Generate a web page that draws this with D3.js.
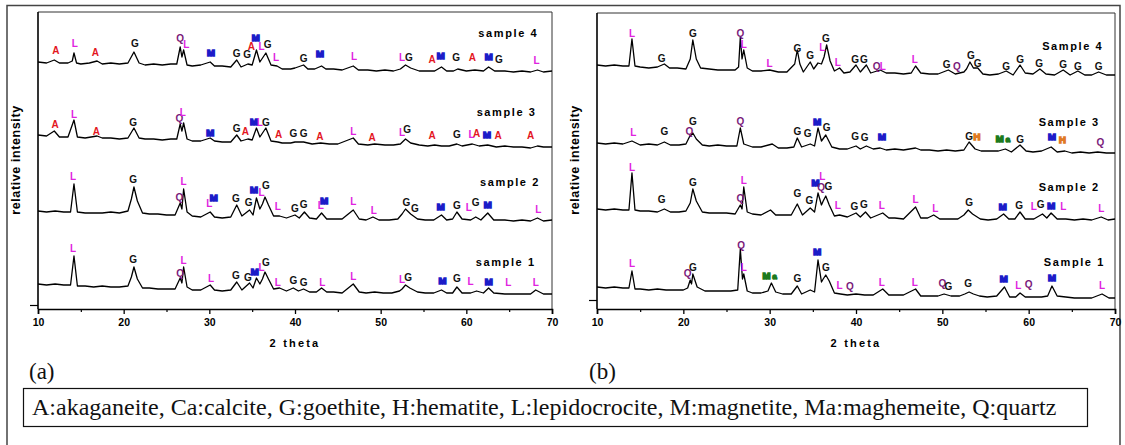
<!DOCTYPE html>
<html><head><meta charset="utf-8">
<script src="https://cdn.jsdelivr.net/npm/d3@7"></script>
<style>
html,body{margin:0;padding:0;background:#fff;}
svg{display:block;}
</style>
</head><body>
<svg id="chart" width="1125" height="445"></svg>
<script>
// ---------- data ----------
const xTicks = [10, 20, 30, 40, 50, 60, 70];
const xMinorTicks = [15, 25, 35, 45, 55, 65];
const sampleNamesA = ["sample 1", "sample 2", "sample 3", "sample 4"];
const sampleNamesB = ["Sample 1", "Sample 2", "Sample 3", "Sample 4"];
const sampleNamePosA = [[64.6, 47], [65.1, 127], [64.7, 197], [64.9, 276]];
const sampleNamePosB = [[65.3, 47], [64.7, 122], [64.7, 187], [65.1, 263]];
const phaseCodes = ["A", "Ca", "G", "H", "L", "M", "Ma", "Q"];
const phaseNames = ["akaganeite", "calcite", "goethite", "hematite", "lepidocrocite", "magnetite", "maghemeite", "quartz"];

// traces: [2 theta, relative intensity (stacked)]
const a1 = [[10,25],[11,24],[12,25],[13,24],[13.8,24],[14.2,53],[14.6,23],[15.5,23],[16.5,22],[17.5,23],[18.5,22],[19.5,22],[20.5,23],[20.9,32],[21.2,42],[21.6,30],[22.2,21],[23,21],[24,20],[25,20],[26,20],[26.6,31],[26.8,26],[27.0,42],[27.4,22],[28,19],[29,19],[30.1,24],[30.6,19],[31.5,18],[32.5,19],[33.2,27],[33.8,19],[34.7,26],[35.1,21],[35.5,31],[35.9,25],[36.2,30],[36.5,37],[36.9,30],[37.5,20],[38.2,21],[39,18],[39.8,21],[40.4,18],[41.0,20],[41.7,17],[42.5,17],[43.1,21],[43.7,17],[44.5,17],[45.5,16],[46.8,25],[47.5,17],[48.3,16],[49.3,17],[50.3,16],[51.3,16],[52.2,18],[52.5,20],[52.9,24],[53.4,21],[54.3,17],[55.2,16],[56.2,16],[57.1,19],[57.7,16],[58.4,16],[58.9,22],[59.5,16],[60.5,16],[61.2,18],[62,16],[62.6,21],[63.2,16],[64.5,15],[65.5,15],[66.5,15],[67.5,15],[68.1,19],[69,15],[70,15]];
const a2 = [[10,98],[11,97],[12,98],[13,97],[13.8,97],[14.2,125],[14.6,97],[15.5,96],[16.5,96],[17.5,96],[18.5,97],[19.5,96],[20.5,98],[20.9,110],[21.2,122],[21.6,108],[22.2,96],[23,95],[24,95],[25,94],[26,94],[26.6,106],[26.8,100],[27.0,120],[27.4,97],[28,93],[29,92],[30.1,97],[30.6,92],[31.5,91],[32.5,92],[33.2,104],[33.8,93],[34.7,99],[35.1,94],[35.5,111],[35.9,100],[36.2,105],[36.5,112],[36.9,104],[37.5,93],[38.2,93],[39,91],[40,94],[40.5,91],[41.1,97],[41.7,91],[42.5,90],[43.1,96],[43.7,90],[44.5,90],[45.5,90],[46.8,99],[47.5,90],[48.3,89],[49.1,92],[49.8,89],[51,89],[52,90],[52.5,95],[52.9,100],[53.5,95],[54.3,90],[55.2,89],[56.2,89],[57.1,94],[57.7,89],[58.4,90],[58.9,97],[59.5,90],[60.5,89],[61.1,92],[61.7,89],[62.5,96],[63.2,89],[64.5,89],[65.5,88],[66.5,89],[67.5,88],[68.3,91],[69,88],[70,89]];
const a3 = [[10,174],[11,173],[11.9,178],[12.5,172],[13.5,172],[14.2,189],[14.6,172],[15.5,171],[16.9,173],[17.5,171],[18.5,171],[19.5,170],[20.5,171],[21.2,181],[21.8,171],[22.5,170],[23.5,170],[24.5,169],[25.5,170],[26.2,170],[26.6,185],[26.8,178],[27.0,186],[27.4,170],[28,168],[29,168],[30.1,171],[30.6,168],[31.5,167],[32.5,167],[33.2,174],[33.7,168],[34.5,170],[35,169],[35.5,181],[35.9,172],[36.6,181],[37.2,168],[38.0,167],[38.5,166],[39.5,166],[40,167],[41,167],[42,165],[43,166],[44,165],[45,165],[46.8,171],[47.4,165],[48.5,164],[49.3,165],[50.5,164],[51.5,164],[52.3,165],[52.9,170],[53.5,166],[54.5,164],[55.5,163],[56.3,164],[57.1,163],[58,163],[58.9,165],[59.5,163],[60.7,165],[61.5,163],[62.5,164],[63.5,162],[64.5,163],[65.5,162],[66.5,162],[67.5,161],[68.3,163],[69,162],[70,162]];
const a4 = [[10,247],[11,246],[11.9,249],[12.5,246],[13.5,246],[14.0,248],[14.2,256],[14.5,246],[15,245],[16,246],[16.9,248],[17.5,245],[18.5,246],[19.5,245],[20.5,246],[21.2,257],[21.8,246],[22.5,244],[23.5,245],[24.5,244],[25.5,245],[26.2,245],[26.6,262],[26.8,252],[27.0,259],[27.4,244],[28,243],[29,244],[30.1,247],[30.6,243],[31.5,243],[32.5,242],[33.2,249],[33.7,242],[34.5,245],[35,244],[35.5,259],[35.9,247],[36.6,256],[37.2,244],[37.9,243],[38.5,240],[39.5,240],[40,241],[41,244],[41.5,240],[42.3,240],[43.1,243],[43.6,240],[44.5,240],[45.5,239],[46.8,243],[47.4,239],[48.5,239],[49.5,238],[50.5,239],[51.5,238],[52.3,240],[52.9,244],[53.5,241],[54.5,238],[55.5,238],[56.3,238],[57.1,242],[57.7,238],[58.5,238],[59,240],[60,238],[61,239],[62,238],[62.6,242],[63.3,238],[64.5,238],[65.5,237],[66.5,238],[67.5,237],[68.3,239],[69,237],[70,238]];

const b1 = [[10,22],[11,21],[12,22],[13,21],[13.7,21],[14.05,38],[14.4,20],[15,20],[16,19],[17,20],[18,19],[19,19],[20,19],[20.5,21],[20.8,29],[20.95,25],[21.1,35],[21.6,22],[22.5,18],[23.5,18],[24.5,18],[25.5,18],[26.3,19],[26.6,60],[26.85,30],[27.0,35],[27.4,18],[28,16],[29,16],[29.8,18],[30.2,26],[30.7,17],[31.5,15],[32.5,15],[33.2,23],[33.7,15],[34.7,19],[35.2,17],[35.6,49],[36.0,27],[36.2,30],[36.5,34],[36.9,28],[37.5,16],[38.2,15],[39,14],[40,15],[41,14],[42,14],[43.1,20],[43.8,14],[44.5,14],[45.5,14],[46.9,20],[47.5,13],[48.5,13],[49.5,13],[50.2,15],[51,13],[52,13],[52.6,15],[53.1,17],[53.6,15],[54.3,13],[55.2,12],[56.3,13],[57.2,22],[57.8,12],[58.5,12],[59.0,16],[59.6,12],[60.5,12],[61.5,12],[62.2,13],[62.7,23],[63.3,13],[64.3,12],[65.3,11],[66.3,11],[67.3,11],[68.5,15],[69.3,11],[70,11]];
const b2 = [[10,100],[11,99],[12,100],[13,99],[13.7,99],[14.05,136],[14.4,99],[15,98],[16,98],[17,97],[17.8,100],[18.5,97],[19.5,97],[20.3,98],[20.8,106],[21.1,120],[21.5,108],[22.2,97],[23,96],[24,96],[25,96],[26,95],[26.6,104],[26.8,100],[27.0,122],[27.4,97],[28,95],[29,94],[30.1,99],[30.7,94],[31.5,94],[32.5,94],[33.2,105],[33.8,94],[34.7,101],[35.2,97],[35.6,116],[36.0,104],[36.2,108],[36.5,113],[36.9,104],[37.5,93],[38.1,94],[39,92],[40,96],[40.5,92],[41.1,97],[41.7,91],[43.1,96],[43.8,91],[44.5,91],[45.5,90],[46.9,102],[47.5,91],[48.3,91],[49.0,94],[49.7,90],[50.7,90],[51.8,90],[52.5,94],[53.0,99],[53.5,95],[54.4,90],[55.3,89],[56.3,90],[57.1,95],[57.7,90],[58.4,90],[59.0,97],[59.6,90],[60.6,90],[61.6,95],[62.1,91],[62.6,96],[63.3,90],[64.3,90],[65.3,89],[66.3,90],[67.3,89],[68.4,92],[69.2,89],[70,90]];
const b3 = [[10,166],[11,165],[12,166],[13,165],[14.05,168],[15,164],[16,165],[17,164],[17.8,167],[18.5,164],[19.5,164],[20.3,165],[20.7,172],[21.1,176],[21.5,170],[22.2,164],[23,163],[24,164],[25,163],[26.2,163],[26.6,181],[27.0,165],[28,162],[29,162],[30.3,165],[31,161],[32,161],[32.8,162],[33.2,171],[33.7,162],[34.7,165],[35.2,163],[35.6,181],[36.0,168],[36.5,174],[37.2,162],[38.1,160],[39,160],[40,163],[40.5,160],[41.2,163],[42,160],[42.8,161],[43.5,159],[44.5,160],[45.5,159],[46.9,161],[47.5,159],[48.5,159],[49.5,158],[50.5,159],[51.5,158],[52.5,159],[53.1,167],[53.8,160],[54.5,158],[55.5,158],[56.5,158],[57.3,160],[58,157],[59.0,164],[59.7,158],[60.5,157],[61.5,158],[62.6,162],[63.3,157],[64.2,158],[65,156],[66,157],[67,156],[68,157],[69,156],[70,156]];
const b4 = [[10,244],[11,243],[12,244],[13,243],[13.7,243],[14.05,270],[14.4,243],[15,242],[16,241],[17,242],[17.8,245],[18.4,241],[19.3,241],[20.3,240],[20.8,250],[21.1,269],[21.5,250],[22,241],[23,240],[24,239],[25,239],[26,239],[26.4,242],[26.6,272],[26.8,250],[27.0,259],[27.4,241],[28,238],[29,238],[30,239],[31,237],[32,237],[32.9,245],[33.2,259],[33.5,245],[33.9,237],[34.7,247],[35.1,240],[35.6,246],[36.0,245],[36.3,252],[36.6,264],[37.0,248],[37.5,238],[38.1,241],[38.6,236],[39.3,237],[40,244],[40.5,237],[41.2,244],[41.7,236],[42.8,239],[43.5,236],[44.5,236],[45.5,235],[46.4,236],[46.9,243],[47.5,236],[48.5,235],[49.5,235],[50.7,239],[51.5,235],[52.5,237],[52.8,240],[53.2,247],[53.6,241],[54.1,241],[54.7,235],[55.5,234],[56.5,235],[57.4,238],[58.2,234],[59.0,244],[59.6,236],[60.5,235],[61.3,240],[62,235],[63,234],[64,239],[64.8,234],[65.7,238],[66.5,234],[67.3,234],[68.1,237],[69,234],[70,234]];

// peak labels: [2 theta, intensity, phase code]
const labelsA = [
 [12.1,259,"A"],[14.3,266,"L"],[16.7,257,"A"],[21.3,266,"G"],[26.6,271,"Q"],[27.3,265,"L"],[30.2,256,"M"],[33.2,256,"G"],[34.4,255,"G"],[34.9,263,"A"],[35.4,271,"M"],[36.1,263,"L"],[36.8,265,"G"],[37.8,252,"L"],[41.0,251,"G"],[42.9,255,"M"],[46.9,253,"L"],[52.5,252,"L"],[53.3,252,"G"],[56.0,250,"A"],[57.0,253,"M"],[58.8,252,"G"],[60.7,252,"A"],[62.6,252,"M"],[63.8,250,"G"],[68.2,249,"L"],
 [12.0,185,"A"],[14.2,195,"L"],[16.8,178,"A"],[21.1,187,"G"],[26.5,191,"Q"],[26.9,197,"L"],[30.1,176,"M"],[33.2,181,"G"],[34.2,178,"A"],[35.2,187,"M"],[35.9,187,"L"],[36.6,187,"G"],[38.1,175,"A"],[39.8,176,"G"],[41.0,176,"G"],[42.9,173,"A"],[46.8,178,"L"],[49.0,172,"A"],[52.5,177,"L"],[53.1,180,"G"],[56.0,174,"A"],[58.9,175,"G"],[60.6,175,"L"],[61.2,176,"A"],[62.4,174,"M"],[63.7,174,"A"],[67.5,174,"A"],
 [14.1,133,"L"],[21.1,130,"G"],[26.5,112,"Q"],[27.0,128,"L"],[30.0,106,"L"],[30.5,111,"M"],[33.1,111,"G"],[34.6,107,"G"],[35.2,119,"M"],[36.1,117,"L"],[36.6,124,"G"],[38.0,103,"L"],[40.0,101,"G"],[41.0,105,"G"],[43.0,104,"L"],[43.4,108,"M"],[46.8,108,"L"],[49.2,99,"L"],[53.0,107,"G"],[54.0,101,"G"],[57.0,102,"M"],[58.9,104,"G"],[60.3,102,"L"],[61.1,107,"G"],[62.5,104,"M"],[68.4,100,"L"],
 [14.1,61,"L"],[21.1,50,"G"],[26.6,36,"Q"],[27.0,49,"L"],[30.2,31,"L"],[33.1,34,"G"],[34.5,32,"G"],[35.3,37,"M"],[36.1,42,"L"],[36.6,47,"G"],[38.0,27,"L"],[39.8,29,"G"],[41.0,27,"G"],[43.2,27,"L"],[46.8,33,"L"],[52.5,30,"L"],[53.2,32,"G"],[57.2,28,"M"],[58.9,31,"G"],[60.5,28,"L"],[62.6,27,"M"],[64.9,27,"L"],[68.1,27,"L"]
];
const labelsB = [
 [14.05,276,"L"],[17.5,251,"G"],[21.1,276,"G"],[26.6,276,"Q"],[27.0,265,"L"],[30.0,246,"L"],[33.2,261,"G"],[34.7,254,"G"],[36.1,262,"L"],[36.5,271,"G"],[37.9,247,"L"],[39.9,250,"G"],[40.9,250,"G"],[42.4,243,"Q"],[43.1,243,"L"],[46.8,250,"L"],[50.5,245,"G"],[51.7,243,"Q"],[53.3,254,"G"],[54.1,246,"G"],[57.4,243,"G"],[59.0,250,"G"],[61.2,246,"G"],[64.0,245,"G"],[65.7,243,"G"],[68.1,243,"G"],
 [14.2,177,"L"],[17.8,178,"G"],[20.7,178,"Q"],[21.1,188,"G"],[26.6,188,"Q"],[33.2,178,"G"],[34.4,176,"G"],[35.5,187,"M"],[36.6,182,"G"],[39.9,173,"G"],[41.0,172,"G"],[43.0,172,"M"],[53.1,173,"G"],[54.0,172,"H"],[57.0,170,"Ma"],[59.0,170,"G"],[62.7,172,"M"],[63.9,169,"H"],[68.3,167,"Q"],
 [14.05,142,"L"],[17.5,110,"G"],[21.1,127,"G"],[26.6,111,"Q"],[27.0,129,"L"],[33.2,116,"G"],[34.6,109,"G"],[35.3,126,"M"],[36.1,133,"L"],[35.95,122,"Q"],[36.8,123,"G"],[37.9,104,"L"],[39.8,103,"G"],[40.9,105,"G"],[43.0,104,"L"],[46.9,110,"L"],[49.2,101,"L"],[53.1,107,"G"],[57.0,102,"M"],[58.9,104,"G"],[60.6,103,"L"],[61.4,105,"G"],[62.6,103,"M"],[64.0,103,"L"],[68.4,101,"L"],
 [14.05,46,"L"],[20.5,36,"Q"],[21.1,42,"G"],[26.7,64,"Q"],[27.0,42,"L"],[30.0,33,"Ma"],[33.2,31,"G"],[35.5,57,"M"],[36.5,42,"G"],[38.1,24,"L"],[39.3,23,"Q"],[43.0,27,"L"],[46.8,27,"L"],[50.0,26,"Q"],[50.7,23,"G"],[53.0,26,"G"],[57.1,30,"M"],[58.8,24,"L"],[60.0,25,"Q"],[62.7,31,"M"],[68.5,24,"L"]
];
const yTickA = [4];
const yTickB = [9];

// ---------- drawing ----------
const svg = d3.select("#chart");
const phaseColor = {A:"#e3161e", L:"#e022e0", G:"#111111", Q:"#7a1a7a", M:"#1c1cc8", H:"#e07a24", Ma:"#1d7a1d"};
const sans = "'Liberation Sans', Arial, sans-serif";
const serif = "'Liberation Serif', 'Times New Roman', serif";

// outer frame
svg.append("path").attr("d","M7,450 L7,5.5 L1120,5.5 L1120,450")
  .attr("fill","none").attr("stroke","#444").attr("stroke-width",1.5);

function panel(cfg){
  const x = d3.scaleLinear().domain([10,70]).range([cfg.x0, cfg.x1]);
  const y = d3.scaleLinear().domain([0,300]).range([309, 9]);
  const g = svg.append("g");
  g.append("path").attr("d",`M${cfg.x0},${cfg.top} L${cfg.x1},${cfg.top} L${cfg.x1},309`)
    .attr("fill","none").attr("stroke","#333").attr("stroke-width",1);
  const line = d3.line().x(d=>x(d[0])).y(d=>y(d[1]));
  cfg.traces.forEach(t=>{
    g.append("path").datum(t).attr("d",line).attr("fill","none")
      .attr("stroke","#000").attr("stroke-width",1.3).attr("stroke-linejoin","round");
  });
  const ax = g.append("g").attr("transform","translate(0,309)")
    .call(d3.axisBottom(x).tickValues(xTicks).tickSize(5).tickPadding(4).tickFormat(d3.format("d")));
  ax.select(".domain").attr("stroke","#000").attr("stroke-width",1.6);
  ax.selectAll(".tick line").attr("stroke","#000").attr("stroke-width",1.3);
  ax.selectAll(".tick text").attr("font-family",sans).attr("font-weight","bold").attr("font-size",10.5).attr("fill","#000").attr("dy","0.8em");
  const axm = g.append("g").attr("transform","translate(0,309)")
    .call(d3.axisBottom(x).tickValues(xMinorTicks).tickSize(3).tickFormat(""));
  axm.select(".domain").remove();
  axm.selectAll(".tick line").attr("stroke","#000").attr("stroke-width",1.2);
  const ay = g.append("g").attr("transform",`translate(${cfg.x0},0)`)
    .call(d3.axisLeft(y).tickValues(cfg.yTick).tickSize(8).tickFormat(""));
  ay.select(".domain").attr("d",`M0,${cfg.top}V309`).attr("stroke","#000").attr("stroke-width",1.6);
  ay.selectAll(".tick line").attr("stroke","#000").attr("stroke-width",1.2);
  g.append("text").attr("x",(cfg.x0+cfg.x1)/2).attr("y",347)
    .attr("text-anchor","middle").attr("font-family",sans).attr("font-weight","bold")
    .attr("font-size",11).attr("letter-spacing","2.2px").text("2 theta");
  g.append("text").attr("transform",`translate(${cfg.ytx},160) rotate(-90)`)
    .attr("text-anchor","middle").attr("font-family",sans).attr("font-weight","bold")
    .attr("font-size",12.5).attr("letter-spacing","0.6px").attr("dy","0.35em").text("relative intensity");
  cfg.names.forEach((n,i)=>{
    g.append("text").attr("x",x(cfg.namePos[i][0])).attr("y",y(cfg.namePos[i][1]))
      .attr("text-anchor","middle").attr("dy","0.35em").attr("font-family",sans)
      .attr("font-weight","bold").attr("font-size",11).attr("letter-spacing","1.6px").text(n);
  });
  cfg.labels.forEach(d=>{
    const code = d[2], c = phaseColor[code];
    const heavy = (code==="M"||code==="H"||code==="Ma");
    const t = g.append("text").attr("x",x(d[0])).attr("y",y(d[1]))
      .attr("text-anchor","middle").attr("dy","0.36em").attr("font-family",sans)
      .attr("font-weight","bold").attr("font-size",heavy?9.5:10).attr("fill",c);
    if(heavy){ t.attr("stroke",c).attr("stroke-width",1.5).attr("stroke-linejoin","miter"); }
    if(code==="Ma"){
      t.append("tspan").text("M");
      t.append("tspan").attr("font-size",7.5).attr("dx","2").text("a");
    } else t.text(code);
  });
  g.append("text").attr("x",cfg.letterX).attr("y",379).attr("font-family",serif)
    .attr("font-size",23).attr("fill","#111").text(cfg.letter);
}

panel({x0:38, x1:552, top:12, traces:[a1,a2,a3,a4], labels:labelsA, names:sampleNamesA, namePos:sampleNamePosA, yTick:yTickA, ytx:16, letter:"(a)", letterX:29});
panel({x0:597, x1:1115, top:13, traces:[b1,b2,b3,b4], labels:labelsB, names:sampleNamesB, namePos:sampleNamePosB, yTick:yTickB, ytx:575, letter:"(b)", letterX:589});

// legend box
svg.append("rect").attr("x",23.5).attr("y",388.5).attr("width",1064).attr("height",38)
  .attr("fill","#fff").attr("stroke","#111").attr("stroke-width",1.2);
const legendText = phaseCodes.map((c,i)=>c+":"+phaseNames[i]).join(", ");
const lt = svg.append("text").attr("x",32).attr("y",415).attr("font-family",serif)
  .attr("font-size",20).attr("fill","#111").text(legendText);
const len = lt.node().getComputedTextLength();
lt.attr("font-size", 20*1025/len);
</script>
</body></html>
